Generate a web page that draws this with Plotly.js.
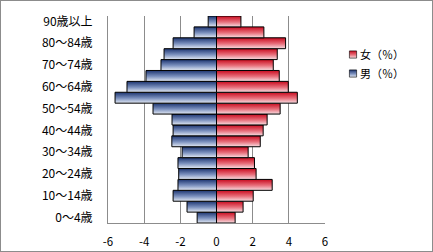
<!DOCTYPE html>
<html><head><meta charset="utf-8">
<script src="https://cdn.plot.ly/plotly-3.0.1.min.js"></script>
<style>html,body{margin:0;padding:0;background:#fff}#frame{position:absolute;left:0;top:0;width:431px;height:250px;border:1px solid #8c8c8c}#chart{position:absolute;left:0;top:0;width:433px;height:252px}</style>
</head><body>
<div id="chart"></div><div id="frame"></div>
<script>
const categories = ["0～4歳","5～9歳","10～14歳","15～19歳","20～24歳","25～29歳","30～34歳","35～39歳","40～44歳","45～49歳","50～54歳","55～59歳","60～64歳","65～69歳","70～74歳","75～79歳","80～84歳","85～89歳","90歳以上"];
const male = [-1.07,-1.63,-2.40,-2.13,-2.09,-2.13,-1.90,-2.47,-2.40,-2.46,-3.51,-5.61,-4.95,-3.90,-3.07,-2.90,-2.40,-1.24,-0.46];
const female = [1.03,1.47,2.03,3.08,2.19,2.10,1.75,2.42,2.58,2.80,3.52,4.47,3.97,3.47,3.14,3.36,3.82,2.62,1.35];
const tickLabels = ["0～4歳","10～14歳","20～24歳","30～34歳","40～44歳","50～54歳","60～64歳","70～74歳","80～84歳","90歳以上"];
const xTicks = [-6,-4,-2,0,2,4,6];

const fam = "'Noto Sans CJK JP', 'DejaVu Sans', sans-serif";
const font = {family: fam, size: 11, color: '#000'};
const traces = [
  {type:'bar', orientation:'h', y:categories, x:female, name:'女（％）', legendgroup:'f',
   marker:{color:'#d8102a', line:{color:'#000', width:1}}},
  {type:'bar', orientation:'h', y:categories, x:male, name:'男（％）', legendgroup:'m',
   marker:{color:'#2a4580', line:{color:'#000', width:1}}}
];
const layout = {
  width:433, height:252, margin:{l:108, r:108, t:16, b:29, autoexpand:false},
  paper_bgcolor:'#fff', plot_bgcolor:'#fff', font:font,
  barmode:'overlay', bargap:0,
  showlegend:true,
  legend:{x:0.977, y:0.884, xanchor:'left', yanchor:'top', traceorder:'normal', tracegroupgap:8, font:font, bgcolor:'rgba(0,0,0,0)'},
  xaxis:{range:[-6,6], tickvals:xTicks, ticktext:xTicks.map(String), showgrid:true, gridcolor:'#8c8c8c', gridwidth:1,
         zeroline:true, zerolinecolor:'#8c8c8c', zerolinewidth:1, showline:true, linecolor:'#8c8c8c',
         ticks:'outside', ticklen:8, tickcolor:'rgba(0,0,0,0)', fixedrange:true, tickfont:{family:fam, size:11.5, color:'#000'}},
  yaxis:{type:'category', categoryorder:'array', categoryarray:categories, range:[-0.5,18.5],
         tickvals:tickLabels, ticktext:tickLabels, showgrid:false, showline:true, linecolor:'#8c8c8c', zeroline:false,
         ticks:'outside', ticklen:12, tickcolor:'rgba(0,0,0,0)', fixedrange:true, tickfont:{family:fam, size:12, color:'#000'}}
};
Plotly.newPlot('chart', traces, layout, {staticPlot:true}).then(function(gd){
  const svg = gd.querySelector('svg.main-svg');
  const ns = 'http://www.w3.org/2000/svg';
  let defs = svg.querySelector('defs');
  function grad(id, top, mid, bot){
    const g = document.createElementNS(ns,'linearGradient');
    g.setAttribute('id',id); g.setAttribute('x1','0'); g.setAttribute('y1','0'); g.setAttribute('x2','0'); g.setAttribute('y2','1');
    [[0,top],[0.55,mid],[1,bot]].forEach(function(s){
      const st = document.createElementNS(ns,'stop'); st.setAttribute('offset',s[0]); st.setAttribute('stop-color',s[1]); g.appendChild(st);
    });
    defs.appendChild(g);
  }
  grad('gF','#c80a1e','#e8707c','#f8e0e4');
  grad('gM','#1c3470','#7d92bf','#e4eaf4');
  const traceGroups = gd.querySelectorAll('.barlayer .trace');
  traceGroups.forEach(function(t, i){
    t.querySelectorAll('path').forEach(function(p){ p.style.fill = i===0 ? 'url(#gF)' : 'url(#gM)'; });
  });
  gd.querySelectorAll('.legend .traces').forEach(function(t, i){
    t.querySelectorAll('.legendpoints path').forEach(function(p){
      p.style.fill = i===0 ? 'url(#gF)' : 'url(#gM)';
      p.setAttribute('transform','translate(33,0) scale(0.6)');
    });
  });
});
</script>
</body></html>
